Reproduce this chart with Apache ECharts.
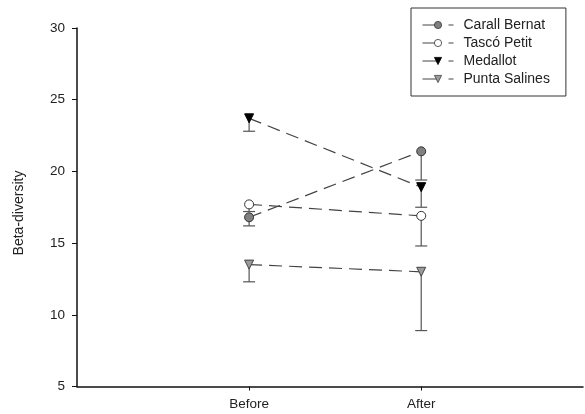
<!DOCTYPE html>
<html>
<head>
<meta charset="utf-8">
<script src="https://cdn.jsdelivr.net/npm/echarts@6/dist/echarts.min.js"></script>
<style>
  html, body { margin: 0; padding: 0; background: #fff; }
  #chart { width: 585px; height: 414px; }
</style>
</head>
<body>
<div id="chart"></div>
<script>
// Sampling times (x positions 1 and 2 on the axis)
const periods = ['Before', 'After'];
const periodPos = [1, 2];

// Mean beta-diversity per site
const carallBernat = [16.8, 21.4];
const tascoPetit = [17.7, 16.9];
const medallot = [23.7, 18.9];
const puntaSalines = [13.5, 13.0];

// Lower end of each error bar
const carallBernatLow = [16.2, 19.4];
const tascoPetitLow = [17.2, 14.8];
const medallotLow = [22.8, 17.5];
const puntaSalinesLow = [12.3, 8.9];

const yTicks = [5, 10, 15, 20, 25, 30];

const sites = [
  { name: 'Carall Bernat', values: carallBernat, low: carallBernatLow, symbol: 'circle', fill: '#808080', stroke: '#333' },
  { name: 'Tascó Petit', values: tascoPetit, low: tascoPetitLow, symbol: 'circle', fill: '#ffffff', stroke: '#333' },
  { name: 'Medallot', values: medallot, low: medallotLow, symbol: 'triangle', fill: '#000000', stroke: '#000' },
  { name: 'Punta Salines', values: puntaSalines, low: puntaSalinesLow, symbol: 'triangle', fill: '#9a9a9a', stroke: '#444' }
];

const font = '"Liberation Sans", Arial, sans-serif';
const chart = echarts.init(document.getElementById('chart'));

const series = [];
sites.forEach(function (s) {
  // error bars (drawn below the markers)
  series.push({
    type: 'custom',
    z: 1,
    silent: true,
    data: periodPos.map(function (x, i) { return [x, s.values[i], s.low[i]]; }),
    renderItem: function (params, api) {
      const top = api.coord([api.value(0), api.value(1)]);
      const bot = api.coord([api.value(0), api.value(2)]);
      const half = 6;
      const style = { stroke: '#555', lineWidth: 1.2 };
      return {
        type: 'group',
        children: [
          { type: 'line', shape: { x1: top[0], y1: top[1], x2: bot[0], y2: bot[1] }, style: style },
          { type: 'line', shape: { x1: bot[0] - half, y1: bot[1], x2: bot[0] + half, y2: bot[1] }, style: style }
        ]
      };
    }
  });
  series.push({
    type: 'line',
    name: s.name,
    z: 3,
    data: periodPos.map(function (x, i) { return [x, s.values[i]]; }),
    symbol: s.symbol,
    symbolRotate: s.symbol === 'triangle' ? 180 : 0,
    symbolSize: 9,
    lineStyle: { color: '#444', width: 1.2, type: [13, 7] },
    itemStyle: { color: s.fill, borderColor: s.stroke, borderWidth: 1 },
    emphasis: { disabled: true },
    animation: false
  });
});

chart.setOption({
  animation: false,
  backgroundColor: '#fff',
  grid: { left: 77, right: 2, top: 28, bottom: 27.5 },
  legend: {
    orient: 'vertical',
    left: 411,
    top: 8,
    padding: [10, 16, 10, 11],
    itemWidth: 31,
    itemHeight: 9,
    itemGap: 4,
    borderColor: '#333',
    borderWidth: 1,
    data: sites.map(function (s) { return s.name; }),
    textStyle: { fontFamily: font, fontSize: 14, color: '#222', padding: [0, 0, 0, 5] },
    itemStyle: { borderWidth: 0.8 },
    lineStyle: { type: [16, 10, 5, 100], color: '#444', width: 1 }
  },
  xAxis: {
    type: 'value',
    min: 0,
    max: 2.94,
    interval: 1,
    splitLine: { show: false },
    axisLine: { lineStyle: { color: '#111', width: 1.5 } },
    axisTick: { show: true, length: 4, customValues: periodPos, lineStyle: { color: '#111' } },
    axisLabel: {
      customValues: periodPos,
      formatter: function (v) { const i = periodPos.indexOf(v); return i >= 0 ? periods[i] : ''; },
      fontFamily: font, fontSize: 13.5, color: '#222', margin: 11
    }
  },
  yAxis: {
    type: 'value',
    min: 5,
    max: 30,
    interval: 5,
    splitLine: { show: false },
    axisLine: { show: true, lineStyle: { color: '#111', width: 1.5 } },
    axisTick: { show: true, length: 5, lineStyle: { color: '#111' } },
    axisLabel: {
      formatter: function (v) { return yTicks.indexOf(v) >= 0 ? String(v) : ''; },
      fontFamily: font, fontSize: 13.5, color: '#222', margin: 12
    }
  },
  graphic: [{
    type: 'text',
    x: 19,
    y: 213,
    rotation: Math.PI / 2,
    style: {
      text: 'Beta-diversity',
      fontFamily: font,
      fontSize: 14,
      fill: '#222',
      align: 'center',
      verticalAlign: 'middle'
    }
  }],
  series: series
});
</script>
</body>
</html>
